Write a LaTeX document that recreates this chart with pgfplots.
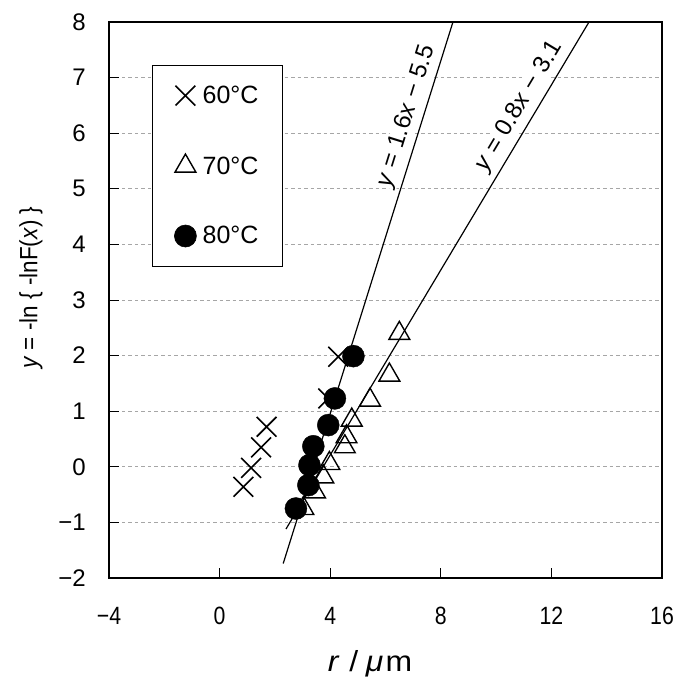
\documentclass[border=0pt]{standalone}
\usepackage{pgfplots}
\pgfplotsset{compat=1.18}
\usepackage{fontspec}
\setmainfont{Liberation Sans}
\newcommand{\nx}[1]{\scalebox{0.85}[1]{#1}}
\begin{document}
\begin{tikzpicture}
\begin{axis}[
  scale only axis,
  width=553pt, height=556pt,
  xmin=-4, xmax=16, ymin=-2, ymax=8,
  xtick={-4,0,4,8,12,16},
  xticklabels={\nx{−4},\nx{0},\nx{4},\nx{8},\nx{12},\nx{16}},
  ytick={-2,-1,0,1,2,3,4,5,6,7,8},
  yticklabels={−2,−1,0,1,2,3,4,5,6,7,8},
  tick align=inside,
  xtick pos=bottom, ytick pos=left,
  major tick length=10pt,
  tick style={black, line width=0.8pt},
  ymajorgrids,
  grid style={gray!70, line width=0.9pt, dash pattern=on 3.5pt off 3pt},
  axis line style={line width=1.2pt},
  every x tick label/.style={font=\fontsize{25}{28}\selectfont, anchor=north, inner sep=0pt, yshift=-29pt},
  every y tick label/.style={font=\fontsize{24}{28}\selectfont, anchor=east, inner sep=0pt, xshift=-23pt},
  clip=false,
  legend style={at={(rel axis cs:0.078,0.923)}, anchor=north west,
    draw=black, line width=0.6pt, fill=white,
    font=\fontsize{25}{30}\selectfont,
    row sep=47pt, inner xsep=22pt, inner ysep=19pt,
    legend cell align=left},
  legend image code/.code={\draw[#1] plot coordinates {(0.3cm,0cm)};},
]
\addplot[only marks, mark=x, mark size=14pt, line width=1.6pt, black]
  coordinates {(0.86,-0.36) (1.14,-0.02) (1.50,0.35) (1.70,0.72) (3.93,1.23) (4.29,1.98)};
\addlegendentry{\,60°C}
\addplot[only marks, mark=triangle, mark size=12pt, line width=1.4pt, black, mark options={fill=white}]
  coordinates {(6.50,2.40) (6.14,1.65) (5.44,1.20) (4.78,0.84) (4.59,0.54) (4.53,0.36) (3.97,0.06) (3.75,-0.18) (3.45,-0.45) (3.03,-0.75)};
\addlegendentry{\,70°C}
\addplot[only marks, mark=*, mark size=11pt, black]
  coordinates {(4.84,1.99) (4.17,1.23) (3.93,0.75) (3.39,0.37) (3.25,0.03) (3.21,-0.33) (2.76,-0.75)};
\addlegendentry{\,80°C}
\addplot[black, line width=1.2pt, forget plot] coordinates {(2.30,-1.74) (8.44,8)};
\addplot[black, line width=1.2pt, forget plot] coordinates {(2.40,-1.12) (13.36,8)};
\node[rotate=72.7, fill=white, inner sep=0.5pt, font=\fontsize{24}{28}\selectfont] at (axis cs:6.78,6.30) {\textit{y} = 1.6\textit{x} − 5.5};
\node[rotate=59.1, fill=white, inner sep=0.5pt, font=\fontsize{24}{28}\selectfont] at (axis cs:10.85,6.48) {\textit{y} = 0.8\textit{x} − 3.1};
\node[font=\fontsize{29}{32}\selectfont] at (rel axis cs:0.472,-0.155) {\scalebox{1.1}[1]{\textit{r}\hspace{9pt}/\hspace{7pt}\textit{μ}\hspace{2pt}m}};
\node[rotate=90, font=\fontsize{25}{30}\selectfont] at (rel axis cs:-0.141,0.522) {\scalebox{0.9}[1]{\textit{y} = -ln \{ -lnF(\textit{x}) \}}};
\end{axis}
\pgfresetboundingbox
\path[use as bounding box] (-109pt,-99pt) rectangle (568pt,578pt);
\end{tikzpicture}
\end{document}
